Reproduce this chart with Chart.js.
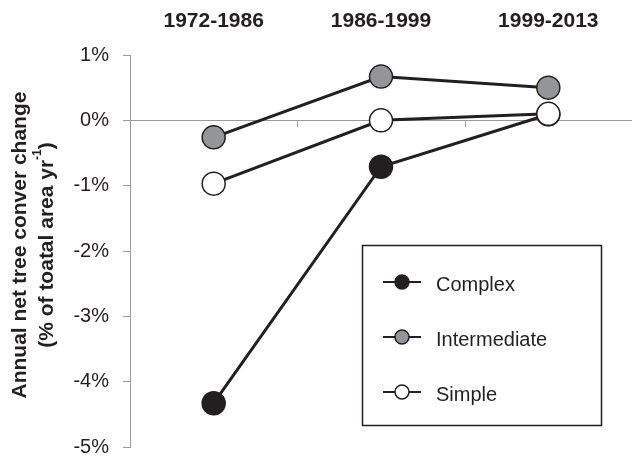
<!DOCTYPE html>
<html>
<head>
<meta charset="utf-8">
<script src="https://cdn.jsdelivr.net/npm/chart.js@4.4.0/dist/chart.umd.min.js"></script>
<style>
    html, body { margin: 0; padding: 0; background: #fff; }
    #wrap { width: 632px; height: 460px; }
</style>
</head>
<body>
<div id="wrap"><canvas id="chart" width="632" height="460"></canvas></div>
<script>
// Values (% of total area per year)
const periods = ['1972-1986', '1986-1999', '1999-2013'];
const seriesNames = ['Complex', 'Intermediate', 'Simple'];
const complexValues = [-4.33, -0.71, 0.09];
const intermediateValues = [-0.26, 0.67, 0.5];
const simpleValues = [-0.97, 0, 0.1];
const yTickValues = [1, 0, -1, -2, -3, -4, -5];
const yTitleLine1 = 'Annual net tree conver change';
const yTitleLine2 = ['(% of toatal area yr', '-1', ')'];

const FONT = "'Liberation Sans', Arial, sans-serif";
const INK = '#231f20';
const AXIS_GREY = '#9a9a9a';

// little tick marks on the zero line, between categories
const zeroTicks = {
    id: 'zeroTicks',
    beforeDatasetsDraw(chart) {
        const { ctx, scales: { x, y } } = chart;
        const y0 = y.getPixelForValue(0);
        ctx.save();
        ctx.strokeStyle = AXIS_GREY;
        ctx.lineWidth = 1;
        for (let i = 0; i < periods.length - 1; i++) {
            const px = Math.round((x.getPixelForTick(i) + x.getPixelForTick(i + 1)) / 2) + 0.5;
            ctx.beginPath();
            ctx.moveTo(px, y0);
            ctx.lineTo(px, y0 + 7);
            ctx.stroke();
        }
        ctx.restore();
    }
};

// rotated two-line y title with superscript
const yTitle = {
    id: 'yTitle',
    afterDraw(chart) {
        const ctx = chart.ctx;
        const cy = 245;
        const main = 'bold 21px ' + FONT;
        const sup = 'bold 12px ' + FONT;
        ctx.save();
        ctx.fillStyle = INK;
        ctx.textBaseline = 'alphabetic';

        ctx.save();
        ctx.translate(26, cy);
        ctx.rotate(-Math.PI / 2);
        ctx.font = main;
        ctx.textAlign = 'center';
        ctx.fillText(yTitleLine1, 0, 0);
        ctx.restore();

        ctx.save();
        ctx.translate(53, cy);
        ctx.rotate(-Math.PI / 2);
        ctx.textAlign = 'left';
        ctx.font = main;
        const w1 = ctx.measureText(yTitleLine2[0]).width;
        const w3 = ctx.measureText(yTitleLine2[2]).width;
        ctx.font = sup;
        const w2 = ctx.measureText(yTitleLine2[1]).width;
        let sx = -(w1 + w2 + w3) / 2;
        ctx.font = main;
        ctx.fillText(yTitleLine2[0], sx, 0);
        sx += w1;
        ctx.font = sup;
        ctx.fillText(yTitleLine2[1], sx, -12);
        sx += w2;
        ctx.font = main;
        ctx.fillText(yTitleLine2[2], sx, 0);
        ctx.restore();

        ctx.restore();
    }
};

// boxed legend inside the plot
const boxLegend = {
    id: 'boxLegend',
    afterDraw(chart) {
        const ctx = chart.ctx;
        ctx.save();
        ctx.strokeStyle = INK;
        ctx.lineWidth = 1.5;
        ctx.strokeRect(362.5, 245.5, 239, 180);
        chart.data.datasets.forEach((ds, i) => {
            const cy = 282 + i * 55;
            ctx.strokeStyle = INK;
            ctx.lineWidth = 2.2;
            ctx.beginPath();
            ctx.moveTo(383, cy);
            ctx.lineTo(421, cy);
            ctx.stroke();
            ctx.beginPath();
            ctx.arc(402, cy, 7, 0, Math.PI * 2);
            ctx.fillStyle = ds.pointBackgroundColor;
            ctx.fill();
            ctx.lineWidth = 1.5;
            ctx.stroke();
            ctx.fillStyle = INK;
            ctx.font = '20px ' + FONT;
            ctx.textAlign = 'left';
            ctx.textBaseline = 'alphabetic';
            ctx.fillText(ds.label, 436, cy + 9);
        });
        ctx.restore();
    }
};

function makeSeries(label, values, fill, order) {
    return {
        label,
        data: values,
        borderColor: INK,
        borderWidth: 3,
        pointBackgroundColor: fill,
        pointBorderColor: INK,
        pointBorderWidth: 1.5,
        pointRadius: 11.5,
        pointHoverRadius: 11.5,
        tension: 0,
        clip: false,
        order
    };
}

new Chart(document.getElementById('chart'), {
    type: 'line',
    data: {
        labels: periods,
        datasets: [
            makeSeries(seriesNames[0], complexValues, INK, 2),
            makeSeries(seriesNames[1], intermediateValues, '#939598', 1),
            makeSeries(seriesNames[2], simpleValues, '#ffffff', 0)
        ]
    },
    options: {
        responsive: false,
        animation: false,
        layout: { autoPadding: false, padding: { left: 73, right: 0, top: 0, bottom: 13 } },
        plugins: {
            legend: { display: false },
            tooltip: { enabled: false }
        },
        scales: {
            x: {
                type: 'category',
                position: 'top',
                offset: true,
                grid: { display: false, drawTicks: false },
                border: { display: false },
                ticks: {
                    color: INK,
                    font: { family: FONT, size: 21, weight: 'bold' },
                    padding: 21,
                    maxRotation: 0
                },
                afterFit: scale => {
                    scale.height = 55;
                    scale.paddingLeft = 0;
                    scale.paddingRight = 0;
                }
            },
            y: {
                min: -5,
                max: 1,
                afterBuildTicks: scale => {
                    scale.ticks = yTickValues.map(v => ({ value: v }));
                },
                grid: {
                    drawOnChartArea: true,
                    color: ctx => (ctx.tick && ctx.tick.value === 0 ? AXIS_GREY : 'rgba(0,0,0,0)'),
                    tickColor: AXIS_GREY,
                    tickLength: 7,
                    lineWidth: 1
                },
                border: { display: true, color: AXIS_GREY, width: 1 },
                ticks: {
                    color: INK,
                    font: { family: FONT, size: 20 },
                    padding: 14,
                    callback: v => v + '%'
                },
                afterFit: scale => {
                    scale.width = 57;
                    scale.paddingTop = 0;
                    scale.paddingBottom = 0;
                }
            }
        }
    },
    plugins: [zeroTicks, yTitle, boxLegend]
});
</script>
</body>
</html>
